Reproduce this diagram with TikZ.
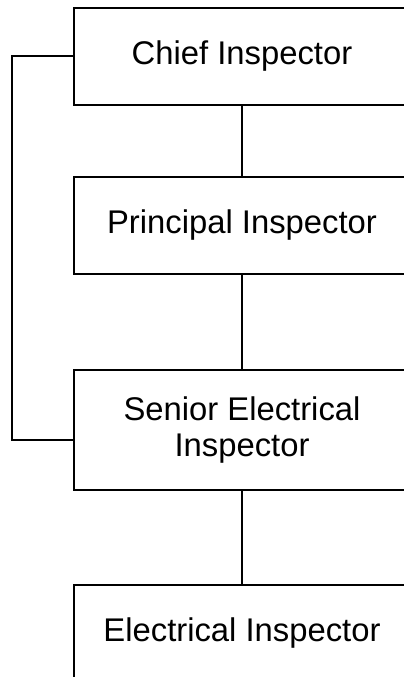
\documentclass[tikz,border=0pt]{standalone}
\usepackage{fontspec}
\setmainfont{Liberation Sans}
\usetikzlibrary{positioning}

\begin{document}
\begin{tikzpicture}[font=\fontsize{24.6}{27}\selectfont,
      rank/.style={rectangle, draw, line width=1.5pt, align=center,
                   minimum width=252.75pt, minimum height=72.75pt, inner sep=0pt},
      link/.style={line width=1.5pt}]
    \useasboundingbox (0,0) rectangle (302.25pt,-507.75pt);
    \node[rank] (chief) at (181.5pt,-42.375pt) {Chief Inspector};
    \node[rank, below=52.5pt of chief] (principal) {Principal Inspector};
    \node[rank, below=70.5pt of principal, minimum height=90pt] (senior) {Senior Electrical\\Inspector};
    \node[rank, below=69.75pt of senior] (electrical) {Electrical Inspector};
    % reporting lines
    \draw[link] (chief) -- (principal);
    \draw[link] (principal) -- (senior);
    \draw[link] (senior) -- (electrical);
    \draw[link] (chief.west) -- ++(-45.25pt,0) |- ([yshift=-7.5pt]senior.west);
\end{tikzpicture}
\end{document}
